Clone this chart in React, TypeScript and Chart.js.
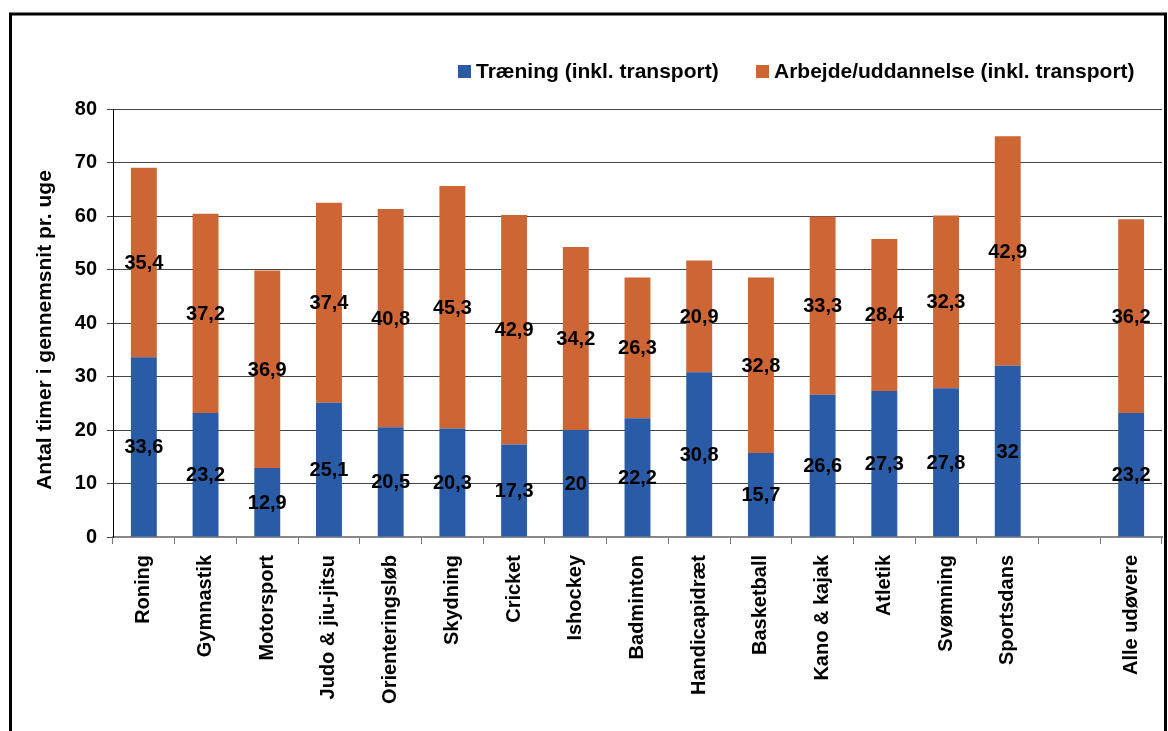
import React, { useEffect, useRef } from "react";
import { Chart, registerables } from "chart.js";

Chart.register(...registerables);

const categories = [
  "Roning", "Gymnastik", "Motorsport", "Judo & jiu-jitsu", "Orienteringsløb",
  "Skydning", "Cricket", "Ishockey", "Badminton", "Handicapidræt",
  "Basketball", "Kano & kajak", "Atletik", "Svømning", "Sportsdans", "", "Alle udøvere",
];
const traening = [33.6, 23.2, 12.9, 25.1, 20.5, 20.3, 17.3, 20, 22.2, 30.8, 15.7, 26.6, 27.3, 27.8, 32, null, 23.2];
const arbejde = [35.4, 37.2, 36.9, 37.4, 40.8, 45.3, 42.9, 34.2, 26.3, 20.9, 32.8, 33.3, 28.4, 32.3, 42.9, null, 36.2];
const seriesNames = ["Træning (inkl. transport)", "Arbejde/uddannelse (inkl. transport)"];
const yTitle = "Antal timer i gennemsnit pr. uge";
const yMin = 0;
const yMax = 80;
const yStep = 10;

const BLUE = "#2A5BA6";
const ORANGE = "#CD6534";
const FONT = '"Liberation Sans", Arial, Helvetica, sans-serif';

const decorPlugin = {
  id: "decor",
  afterDatasetsDraw(chart: any) {
    const ctx = chart.ctx;
    ctx.save();
    ctx.fillStyle = "#000";
    ctx.font = `bold 20px ${FONT}`;
    ctx.textAlign = "center";
    ctx.textBaseline = "middle";
    chart.data.datasets.forEach((ds: any, i: number) => {
      const meta = chart.getDatasetMeta(i);
      meta.data.forEach((bar: any, j: number) => {
        const v = ds.data[j];
        if (v === null || v === undefined) return;
        const y = (bar.y + bar.base) / 2;
        ctx.fillText(String(v).replace(".", ","), bar.x, y + 1);
      });
    });
    ctx.restore();
  },
  afterDraw(chart: any) {
    const ctx = chart.ctx;
    ctx.save();
    // frame
    ctx.strokeStyle = "#000";
    ctx.lineWidth = 3;
    ctx.beginPath();
    ctx.moveTo(10.5, 760);
    ctx.lineTo(10.5, 14);
    ctx.lineTo(1165.5, 14);
    ctx.lineTo(1165.5, 760);
    ctx.stroke();

    // legend
    ctx.font = `bold 21px ${FONT}`;
    ctx.textBaseline = "middle";
    ctx.textAlign = "left";
    ctx.fillStyle = BLUE;
    ctx.fillRect(458, 65, 13, 13);
    ctx.fillStyle = "#000";
    ctx.fillText(seriesNames[0], 476, 72);
    ctx.fillStyle = ORANGE;
    ctx.fillRect(756, 65, 13, 13);
    ctx.fillStyle = "#000";
    ctx.fillText(seriesNames[1], 774, 72);

    // y title
    ctx.translate(45, 330);
    ctx.rotate(-Math.PI / 2);
    ctx.textAlign = "center";
    ctx.font = `bold 21px ${FONT}`;
    ctx.fillText(yTitle, 0, 0);
    ctx.restore();
  },
};

export default function App() {
  const ref = useRef<HTMLCanvasElement | null>(null);
  useEffect(() => {
    if (!ref.current) return;
    const chart = new Chart(ref.current, {
      type: "bar",
      data: {
        labels: categories,
        datasets: [
          { label: seriesNames[0], data: traening, backgroundColor: BLUE, stack: "s" },
          { label: seriesNames[1], data: arbejde, backgroundColor: ORANGE, stack: "s" },
        ],
      },
      options: {
        responsive: false,
        animation: false,
        layout: { padding: { left: 0, top: 109, right: 6, bottom: 0 } },
        plugins: { legend: { display: false }, tooltip: { enabled: false } },
        datasets: { bar: { categoryPercentage: 1, barPercentage: 0.42 } },
        scales: {
          x: {
            stacked: true,
            afterFit: (s: any) => { s.height = 194; },
            grid: { display: true, drawOnChartArea: false, drawTicks: true, tickLength: 7, color: "#777", offset: true },
            border: { display: true, color: "#888", width: 2 },
            ticks: {
              autoSkip: false, maxRotation: 90, minRotation: 90, padding: 11,
              color: "#000", font: { family: FONT, weight: "bold", size: 20 },
            },
          },
          y: {
            stacked: true,
            min: yMin,
            max: yMax,
            afterFit: (s: any) => { s.width = 113; },
            grid: { color: "#444", tickLength: 6, drawTicks: true },
            border: { display: true, color: "#000", width: 1 },
            ticks: {
              stepSize: yStep, padding: 10, color: "#000",
              font: { family: FONT, weight: "bold", size: 20 },
            },
          },
        },
      },
      plugins: [decorPlugin],
    } as any);
    return () => chart.destroy();
  }, []);
  return (
    <div style={{ position: "absolute", left: 0, top: 0, width: 1168, height: 731, background: "#fff" }}>
      <canvas ref={ref} width={1168} height={731} style={{ display: "block" }} />
    </div>
  );
}
